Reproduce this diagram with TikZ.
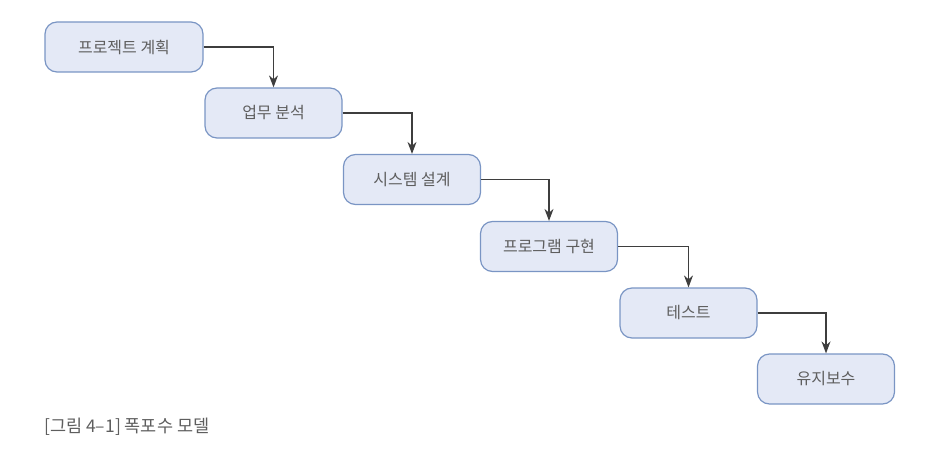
\documentclass[tikz,border=0pt]{standalone}
\usepackage{fontspec}
\setmainfont{Noto Sans CJK KR}
\usetikzlibrary{arrows.meta}
\definecolor{boxfill}{HTML}{E4E9F6}
\definecolor{boxline}{HTML}{7A95C4}
\definecolor{txt}{HTML}{5E5E5E}
\definecolor{conn}{HTML}{3E3E3E}
\tikzset{
  stepbox/.style={draw=boxline, fill=boxfill, line width=1.2pt, rounded corners=12pt,
    minimum width=137pt, minimum height=50pt, inner sep=0pt, text=txt, font=\fontsize{16}{18}\selectfont},
  conn/.style={draw=conn, line width=1.2pt, -{Stealth[length=12pt,width=9pt]}}
}
\begin{document}
\begin{tikzpicture}[x=1pt,y=-1pt]
\useasboundingbox (0,0) rectangle (936,449);
\node[stepbox, minimum width=158pt] (a) at (124,47) {프로젝트 계획};
\node[stepbox] (b) at (273.5,113) {업무 분석};
\node[stepbox] (c) at (412,179.5) {시스템 설계};
\node[stepbox] (d) at (549,246.5) {프로그램 구현};
\node[stepbox] (e) at (688.5,313) {테스트};
\node[stepbox] (f) at (826,379) {유지보수};
\draw[conn] (a.east) -| (b.north);
\draw[conn] (b.east) -| (c.north);
\draw[conn] (c.east) -| (d.north);
\draw[conn] (d.east) -| (e.north);
\draw[conn] (e.east) -| (f.north);
\node[anchor=west, text=txt, font=\fontsize{17.5}{20}\selectfont, inner sep=0pt] (cap) at (44,427) {[그림 4–1] 폭포수 모델};
\end{tikzpicture}
\end{document}
